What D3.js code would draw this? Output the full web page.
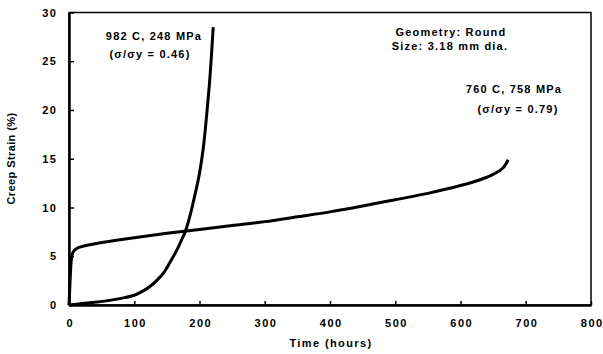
<!DOCTYPE html>
<html>
<head>
<meta charset="utf-8">
<script src="https://cdn.jsdelivr.net/npm/d3@7"></script>
<style>
  html, body { margin: 0; padding: 0; background: #fff; }
  svg text { font-family: "Liberation Sans", Arial, sans-serif; font-weight: bold; fill: #000; }
</style>
</head>
<body>
<svg id="chart" width="603" height="354"></svg>
<script>
// Creep curves: strain (%) against time (hours)
const time982 = [0, 20, 40, 60, 80, 100, 115, 125, 135, 145, 155, 165, 172, 178, 186, 194, 200, 206, 211, 215, 218, 221];
const strain982 = [0, 0.15, 0.28, 0.45, 0.68, 1.0, 1.5, 1.95, 2.55, 3.3, 4.4, 5.6, 6.6, 7.5, 9.3, 11.6, 13.5, 16.2, 19.5, 22.5, 25.3, 28.5];

const time760 = [0, 1, 2, 3, 4, 5, 7, 10, 15, 20, 30, 50, 100, 150, 200, 250, 300, 350, 400, 450, 500, 550, 600, 630, 650, 665, 673];
const strain760 = [0, 1.5, 3.0, 4.2, 4.9, 5.2, 5.5, 5.7, 5.9, 6.0, 6.15, 6.4, 6.9, 7.35, 7.75, 8.15, 8.55, 9.05, 9.55, 10.15, 10.8, 11.45, 12.25, 12.85, 13.4, 14.05, 14.9];

const xTicks = [0, 100, 200, 300, 400, 500, 600, 700, 800];
const yTicks = [0, 5, 10, 15, 20, 25, 30];

const svg = d3.select("#chart");
const m = { left: 69, right: 591, top: 12.5, bottom: 305 };

const x = d3.scaleLinear().domain([0, 800]).range([m.left, m.right]);
const y = d3.scaleLinear().domain([0, 30]).range([m.bottom, m.top]);

// plot frame (top and right edges)
svg.append("rect")
  .attr("x", m.left).attr("y", m.top)
  .attr("width", m.right - m.left).attr("height", m.bottom - m.top)
  .attr("fill", "none").attr("stroke", "#000").attr("stroke-width", 1.5);

// x axis with inward ticks
const xAxis = svg.append("g")
  .attr("transform", `translate(0,${m.bottom})`)
  .call(d3.axisBottom(x).tickValues(xTicks).tickSizeInner(-4).tickSizeOuter(0).tickPadding(14));
xAxis.select(".domain").attr("stroke-width", 2.5);
xAxis.selectAll(".tick line").attr("stroke-width", 1.5);
xAxis.selectAll(".tick text")
  .attr("font-size", 11).attr("letter-spacing", 1.5)
  .attr("font-family", "Liberation Sans, Arial, sans-serif").attr("font-weight", "bold")
  .attr("dx", 0.75);

// y axis with inward ticks
const yAxis = svg.append("g")
  .attr("transform", `translate(${m.left},0)`)
  .call(d3.axisLeft(y).tickValues(yTicks).tickSizeInner(-5).tickSizeOuter(0).tickPadding(13));
yAxis.select(".domain").attr("stroke-width", 2.5);
yAxis.selectAll(".tick line").attr("stroke-width", 1.5);
yAxis.selectAll(".tick text")
  .attr("font-size", 11).attr("letter-spacing", 1.5)
  .attr("font-family", "Liberation Sans, Arial, sans-serif").attr("font-weight", "bold")
  .attr("dx", 1.5);

// axis titles
svg.append("text")
  .attr("x", (m.left + m.right) / 2 + 1).attr("y", 347)
  .attr("text-anchor", "middle").attr("font-size", 11).attr("letter-spacing", 1.4)
  .text("Time (hours)");

svg.append("text")
  .attr("transform", `translate(15,158.5) rotate(-90)`)
  .attr("text-anchor", "middle").attr("font-size", 11).attr("letter-spacing", 0.4)
  .text("Creep Strain (%)");

// curves
const line = d3.line()
  .x(d => x(d[0])).y(d => y(d[1]))
  .curve(d3.curveCatmullRom.alpha(0.5));

const series = [
  d3.zip(time982, strain982),
  d3.zip(time760, strain760)
];

svg.append("g").selectAll("path")
  .data(series)
  .join("path")
  .attr("d", line)
  .attr("fill", "none").attr("stroke", "#000")
  .attr("stroke-width", 3).attr("stroke-linejoin", "round");

// annotations
const notes = [
  { t: "982 C, 248 MPa", cx: 154, by: 40 },
  { t: "(σ/σy = 0.46)", cx: 150, by: 58 },
  { t: "Geometry: Round", cx: 451, by: 36 },
  { t: "Size: 3.18 mm dia.", cx: 450, by: 50 },
  { t: "760 C, 758 MPa", cx: 514, by: 93 },
  { t: "(σ/σy = 0.79)", cx: 518, by: 113 }
];
svg.append("g").selectAll("text")
  .data(notes)
  .join("text")
  .attr("x", d => d.cx).attr("y", d => d.by)
  .attr("text-anchor", "middle").attr("font-size", 11).attr("letter-spacing", 1.2)
  .text(d => d.t);
</script>
</body>
</html>
